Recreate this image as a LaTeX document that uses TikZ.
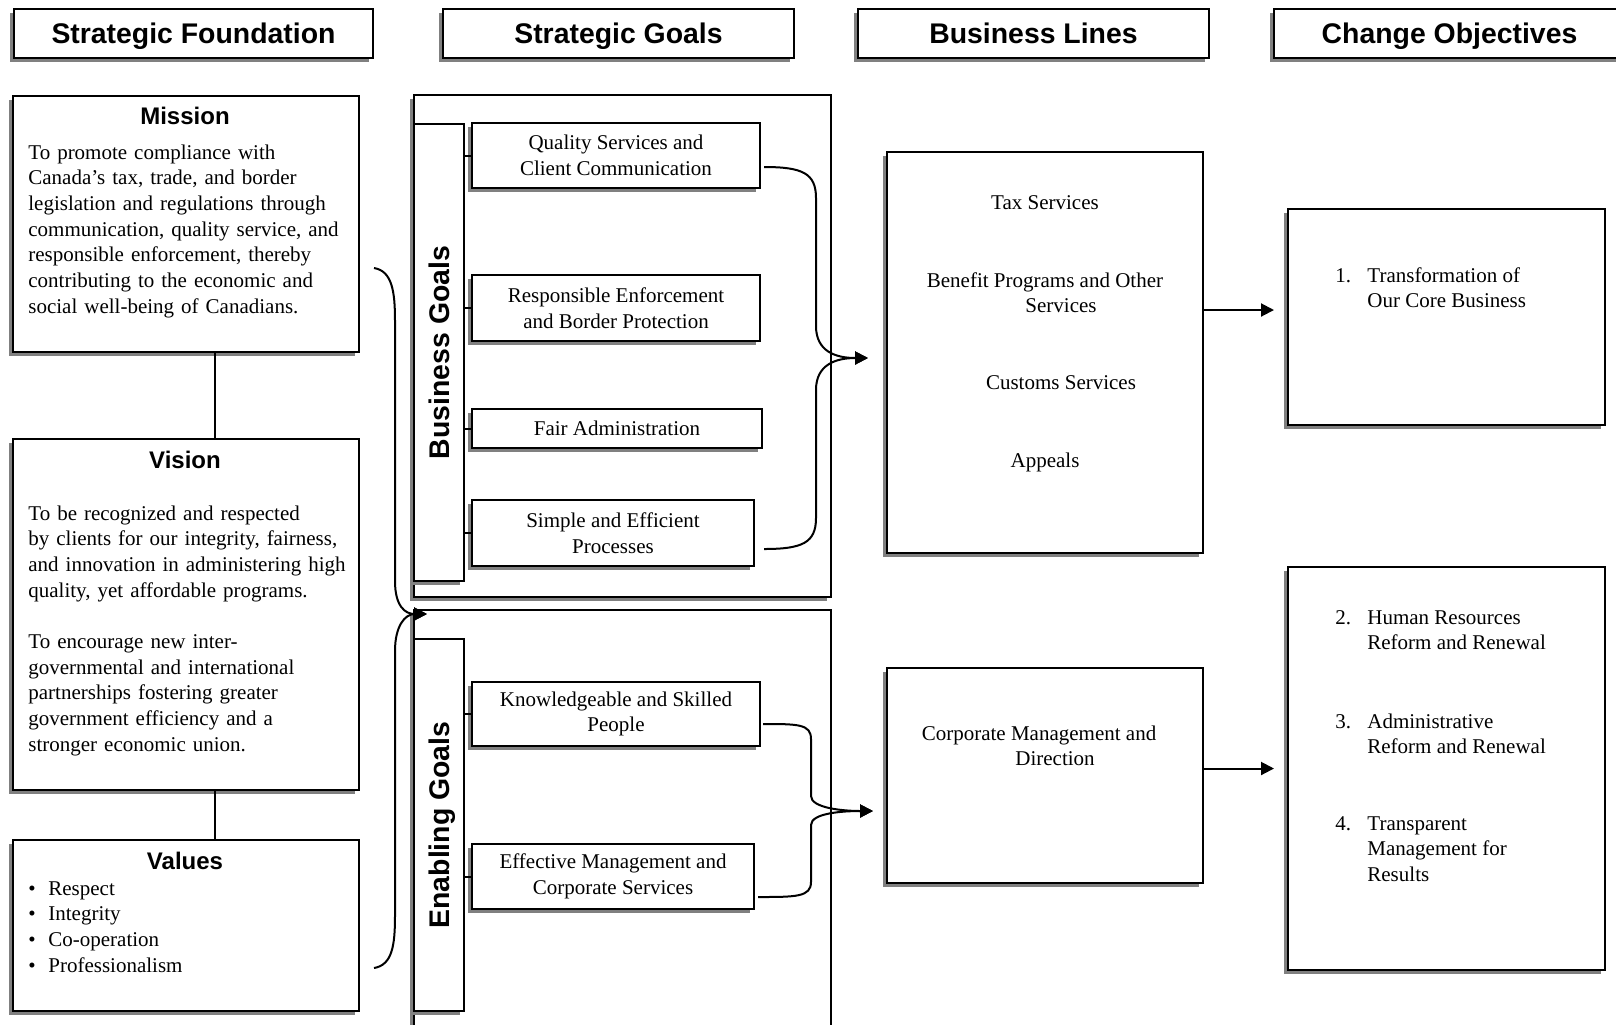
\documentclass[tikz,border=0pt]{standalone}
\usepackage{fontspec}
\setmainfont{Liberation Serif}
\setsansfont{Liberation Sans}
\usetikzlibrary{arrows.meta,calc,shadows}

\newcommand{\bodyfont}{\fontsize{10.5}{12.85}\selectfont}
\newcommand{\objnum}[1]{\makebox[16pt][l]{#1}}

\begin{document}
\begin{tikzpicture}[
  x=0.5pt, y=-0.5pt,
  >={Triangle[length=6.5pt, width=6.5pt]},
  boxshadow/.style={drop shadow={shadow xshift=-1.8pt, shadow yshift=-2pt, fill=black!50, opacity=1}},
  box/.style={draw, fill=white, line width=1pt, inner sep=0pt, anchor=north west, boxshadow},
  header/.style={box, minimum width=175.5pt, minimum height=24.5pt, text depth=0pt,
    font=\sffamily\bfseries\fontsize{14.2}{17}\selectfont},
  goal/.style={box, align=center, font=\bodyfont},
  boxtitle/.style={font=\sffamily\bfseries\fontsize{12}{14}\selectfont, inner sep=0pt, anchor=base},
  sidetitle/.style={font=\sffamily\bfseries\fontsize{14.2}{17}\selectfont, rotate=90, text depth=0pt},
  para/.style={font=\bodyfont, text width=165pt, align=left, inner sep=0pt, anchor=base west},
  bltext/.style={font=\bodyfont, inner sep=0pt, anchor=base},
  objtext/.style={font=\bodyfont, inner sep=0pt, anchor=base west},
  link/.style={draw, line width=1pt},
  flow/.style={link, ->}
]
  \useasboundingbox (0,0) rectangle (1616,1024);

  % column headers
  \node[header, minimum width=179.5pt] (hfound) at (13,8) {Strategic Foundation};
  \node[header] (hgoals) at (442,8) {Strategic Goals};
  \node[header] (hlines) at (857,8) {Business Lines};
  \node[header] (hobj) at (1273,8) {Change Objectives};

  % strategic foundation
  \node[box, minimum width=173pt, minimum height=128pt] (mission) at (12,95) {};
  \node[boxtitle] (missiont) at (185,124) {Mission};
  \node[para] (missionp) at (28,159) {To promote compliance with\\
    Canada's tax, trade, and border\\
    legislation and regulations through\\
    communication, quality service, and\\
    responsible enforcement, thereby\\
    contributing to the economic and\\
    social well-being of Canadians.};

  \node[box, minimum width=173pt, minimum height=175.5pt] (vision) at (12,438) {};
  \node[boxtitle] (visiont) at (185,468.5) {Vision};
  \node[para] (visionp) at (28,520) {To be recognized and respected\\
    by clients for our integrity, fairness,\\
    and innovation in administering high\\
    quality, yet affordable programs.\\[\baselineskip]
    To encourage new inter-\\
    governmental and international\\
    partnerships fostering greater\\
    government efficiency and a\\
    stronger economic union.};

  \node[box, minimum width=173pt, minimum height=85.5pt] (values) at (12,839) {};
  \node[boxtitle] (valuest) at (185,869.5) {Values};
  \node[para] (valuesp) at (28,895) {\makebox[10pt][l]{\textbullet}Respect\\
    \makebox[10pt][l]{\textbullet}Integrity\\
    \makebox[10pt][l]{\textbullet}Co-operation\\
    \makebox[10pt][l]{\textbullet}Professionalism};

  \draw[link] ($(mission.south)+(29,0)$) -- ($(vision.north)+(29,0)$);
  \draw[link] ($(vision.south)+(29,0)$) -- ($(values.north)+(29,0)$);

  % strategic goals
  \node[box, minimum width=208.5pt, minimum height=251pt] (bframe) at (413,94) {};
  \node[box, minimum width=208.5pt, minimum height=220pt] (eframe) at (413,609) {};
  \node[box, minimum width=25pt, minimum height=228.5pt] (blabel) at (413,123) {};
  \node[sidetitle] (blabelt) at (blabel.center) {Business Goals};
  \node[box, minimum width=25pt, minimum height=186pt] (elabel) at (413,638) {};
  \node[sidetitle] (elabelt) at (elabel.center) {Enabling Goals};

  \node[goal, minimum width=144pt, minimum height=32.5pt] (g1) at (471,122) {Quality Services and\\Client Communication};
  \node[goal, minimum width=144pt, minimum height=33pt] (g2) at (471,274) {Responsible Enforcement\\and Border Protection};
  \node[goal, minimum width=145pt, minimum height=19.5pt] (g3) at (471,408) {Fair Administration};
  \node[goal, minimum width=141pt, minimum height=33pt] (g4) at (471,499) {Simple and Efficient\\Processes};
  \node[goal, minimum width=144pt, minimum height=32pt] (g5) at (471,681) {Knowledgeable and Skilled\\People};
  \node[goal, minimum width=141pt, minimum height=32.5pt] (g6) at (471,843) {Effective Management and\\Corporate Services};

  \foreach \g in {g1,g2,g3,g4}
    \draw[link] (blabel.east |- \g.west) -- (\g.west);
  \foreach \g in {g5,g6}
    \draw[link] (elabel.east |- \g.west) -- (\g.west);

  % business lines
  \node[box, minimum width=158pt, minimum height=200.5pt] (bl1) at (886,151) {};
  \node[bltext] (tax) at (1045,209.5) {Tax Services};
  \node[bltext] (benefit) at (1045,287) {Benefit Programs and Other};
  \node[bltext] (benefitb) at (1061,312) {Services};
  \node[bltext] (customs) at (1061,389) {Customs Services};
  \node[bltext] (appeals) at (1045,467) {Appeals};

  \node[box, minimum width=158pt, minimum height=107.5pt] (bl2) at (886,667) {};
  \node[bltext] (corp) at (1039,740) {Corporate Management and};
  \node[bltext] (corpb) at (1055,765) {Direction};

  % change objectives
  \node[box, minimum width=158.5pt, minimum height=108pt] (co1) at (1287,208) {};
  \node[objtext] (obj1) at (1335,282) {\objnum{1.}\begin{tabular}[t]{@{}l@{}}Transformation of\\Our Core Business\end{tabular}};
  \node[box, minimum width=158.5pt, minimum height=201.5pt] (co2) at (1287,566) {};
  \node[objtext] (obj2) at (1335,624) {\objnum{2.}\begin{tabular}[t]{@{}l@{}}Human Resources\\Reform and Renewal\end{tabular}};
  \node[objtext] (obj3) at (1335,728) {\objnum{3.}\begin{tabular}[t]{@{}l@{}}Administrative\\Reform and Renewal\end{tabular}};
  \node[objtext] (obj4) at (1335,830) {\objnum{4.}\begin{tabular}[t]{@{}l@{}}Transparent\\Management for\\Results\end{tabular}};

  % connectors
  \coordinate (fin) at ($(eframe.north west)+(14,5)$);
  \coordinate (bin) at ($(bl1.west)+(-18,5.5)$);
  \coordinate (ein) at ($(bl2.west)+(-13,35.5)$);

  \draw[flow] ($(mission.east)+(14,44)$) .. controls +(18,3) and +(0,-30) .. ++(21,53)
    -- ++(0,260) .. controls +(0,25) and +(-22,0) .. (fin);
  \draw[flow] ($(values.east)+(14,42.5)$) .. controls +(18,-3) and +(0,30) .. ++(21,-52)
    -- ++(0,-265) .. controls +(0,-25) and +(-22,0) .. (fin);

  \draw[flow] ($(g1.east)+(3,11.5)$) .. controls +(38,0) and +(0,-25) .. ++(52,31)
    -- ++(0,128) .. controls +(0,25) and +(-33,0) .. (bin);
  \draw[flow] ($(g4.east)+(9,16)$) .. controls +(38,0) and +(0,25) .. ++(52,-31)
    -- ++(0,-128) .. controls +(0,-25) and +(-33,0) .. (bin);

  \draw[flow] ($(g5.east)+(2,10)$) .. controls +(35,0) and +(0,-15) .. ++(48,15)
    -- ++(0,57) .. controls +(0,12) and +(-30,0) .. (ein);
  \draw[flow] ($(g6.east)+(3,20.5)$) .. controls +(38,0) and +(0,15) .. ++(53,-15)
    -- ++(0,-57) .. controls +(0,-12) and +(-30,0) .. (ein);

  \draw[flow] ($(bl1.east |- co1.west)+(0,-7)$) -- ($(co1.west)+(-13,-7)$);
  \draw[flow] (bl2.east |- co2.west) -- ($(co2.west)+(-13,0)$);
\end{tikzpicture}
\end{document}
